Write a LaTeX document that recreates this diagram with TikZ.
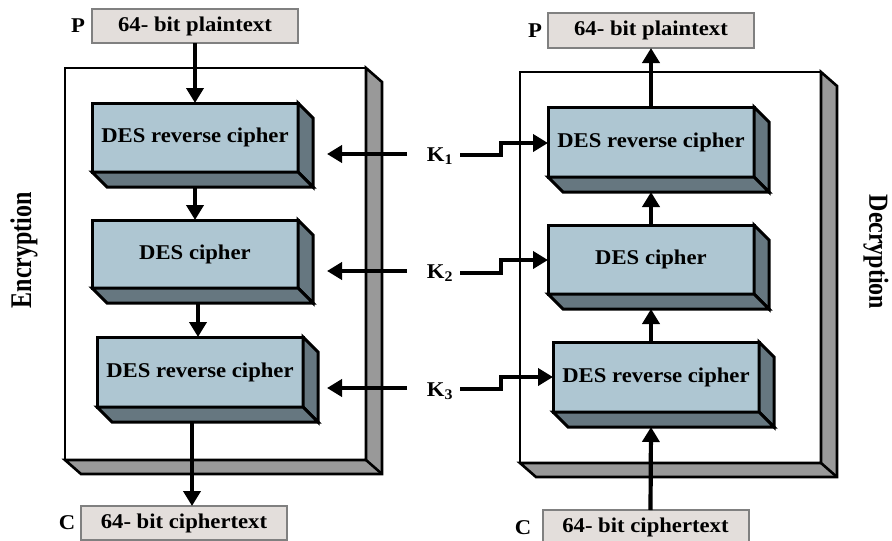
\documentclass[tikz,border=0pt]{standalone}
\usepackage{fontspec}
\setmainfont[FakeStretch=1.08]{Liberation Serif}
\newfontfamily\plainserif{Liberation Serif}
\usepackage{graphicx}
\usetikzlibrary{arrows.meta,calc}
\definecolor{face}{RGB}{174,198,210}
\definecolor{side}{RGB}{102,119,128}
\definecolor{shade}{RGB}{153,153,153}
\definecolor{boxfill}{RGB}{227,222,219}
\definecolor{boxline}{RGB}{128,128,128}
\newcommand\blockdepth[1]{%
  \draw[sidefc] (#1.north east) -- ++(15,15) -- ($(#1.south east)+(15,15)$) -- (#1.south east) -- cycle;
  \draw[sidefc] (#1.south west) -- (#1.south east) -- ($(#1.south east)+(15,15)$) -- ($(#1.south west)+(15,15)$) -- cycle;}
\newcommand\framedepth[1]{%
  \draw[frmside] (#1.north east) -- ++(16,14) -- ($(#1.south east)+(16,14)$) -- ($(#1.south west)+(16,14)$) -- (#1.south west) -- (#1.south east) -- cycle;
  \draw[line width=2.6pt] (#1.south east) -- ++(16,14);}
\begin{document}
\begin{tikzpicture}[x=1pt,y=-1pt,
  txt/.style={font=\bfseries\fontsize{21}{23}\selectfont},
  iotxt/.style={font=\bfseries\fontsize{21}{23}\selectfont},
  blk/.style={txt, draw=black, line width=3pt, fill=face, minimum width=206pt, inner sep=0pt, outer sep=0pt},
  sidefc/.style={draw=black, line width=3pt, fill=side, line join=miter},
  io/.style={iotxt, draw=boxline, line width=2pt, fill=boxfill, minimum width=206pt, minimum height=34pt, inner sep=0pt, outer sep=0pt},
  frm/.style={draw=black, line width=2.6pt, fill=white, inner sep=0pt, outer sep=0pt},
  frmside/.style={draw=black, line width=2.6pt, fill=shade, line join=miter},
  arr/.style={line width=4.2pt, -{Triangle[length=15pt,width=17pt]}},
  side label/.style={font=\plainserif\bfseries\fontsize{24}{26}\selectfont}
]
\useasboundingbox (0,0) rectangle (892,541);

% ---------- Encryption (left) ----------
\node[frm, minimum width=301pt, minimum height=392pt, anchor=north west] (fl) at (65,68) {};
\framedepth{fl}

\node[io] (pin) at (195,26) {64- bit plaintext};
\node[iotxt] (pl) at (78,26) {P};

\node[blk, minimum height=69pt] (e1) at (195,137.5) {DES reverse cipher};
\blockdepth{e1}
\node[blk, minimum height=68pt] (e2) at (195,254) {DES cipher};
\blockdepth{e2}
\node[blk, minimum height=70pt] (e3) at (200,372) {DES reverse cipher};
\blockdepth{e3}

\node[io] (cout) at (184,523) {64- bit ciphertext};
\node[iotxt] (cl) at (67,523) {C};

\draw[arr] (pin.south) -- (e1.north);
\draw[arr] ($(e1.south)+(0,15)$) -- (e2.north);
\draw[arr] ($(e2.south)+(3,15)$) -- ($(e3.north)+(-2,0)$);
\draw[arr] ($(e3.south)+(-8,15)$) -- ($(cout.north)+(8,0)$);

% ---------- keys ----------
\node[iotxt] (k1) at (440,156) {K\textsubscript{1}};
\node[iotxt] (k2) at (440,273) {K\textsubscript{2}};
\node[iotxt] (k3) at (440,391) {K\textsubscript{3}};

\coordinate (la1) at (407,154); \coordinate (lb1) at (327,154);
\coordinate (la2) at (407,271); \coordinate (lb2) at (327,271);
\coordinate (la3) at (407,388); \coordinate (lb3) at (327,388);
\draw[arr] (la1) -- (lb1);
\draw[arr] (la2) -- (lb2);
\draw[arr] (la3) -- (lb3);

% ---------- Decryption (right) ----------
\node[frm, minimum width=301pt, minimum height=391pt, anchor=north west] (fr) at (520,72) {};
\framedepth{fr}

\node[io, minimum height=35pt] (pout) at (651,30.5) {64- bit plaintext};
\node[iotxt] (pr) at (535,31) {P};

\node[blk, minimum height=70pt] (d1) at (651,142) {DES reverse cipher};
\blockdepth{d1}
\node[blk, minimum height=69pt] (d2) at (651,259.5) {DES cipher};
\blockdepth{d2}
\node[blk, minimum height=70pt] (d3) at (656,377) {DES reverse cipher};
\blockdepth{d3}

\node[io] (cin) at (645.5,527) {64- bit ciphertext};
\node[iotxt] (cr) at (523,528) {C};

\draw[arr] (d1.north) -- (pout.south);
\draw[arr] (d2.north) -- ($(d1.south)+(0,15)$);
\draw[arr] ($(d3.north)+(-5,0)$) -- ($(d2.south)+(0,15)$);
\draw[arr] ($(cin.north)+(5,0)$) -- ($(d3.south)+(-5,15)$);

\coordinate (ra1) at (460,155);
\coordinate (ra2) at (460,273);
\coordinate (ra3) at (460,389);
\draw[arr] (ra1) -- (501,155) -- (501,143) -- (d1.west |- 0,143);
\draw[arr] (ra2) -- (501,273) -- (501,260) -- (d2.west |- 0,260);
\draw[arr] (ra3) -- (501,389) -- (501,377) -- (d3.west |- 0,377);

% ---------- side labels ----------
\node[side label, rotate=90] (enc) at (24,250) {\scalebox{1}[1.25]{Encryption}};
\node[side label, rotate=-90] (dec) at (876,252) {\scalebox{1}[1.15]{Decryption}};
\end{tikzpicture}
\end{document}
